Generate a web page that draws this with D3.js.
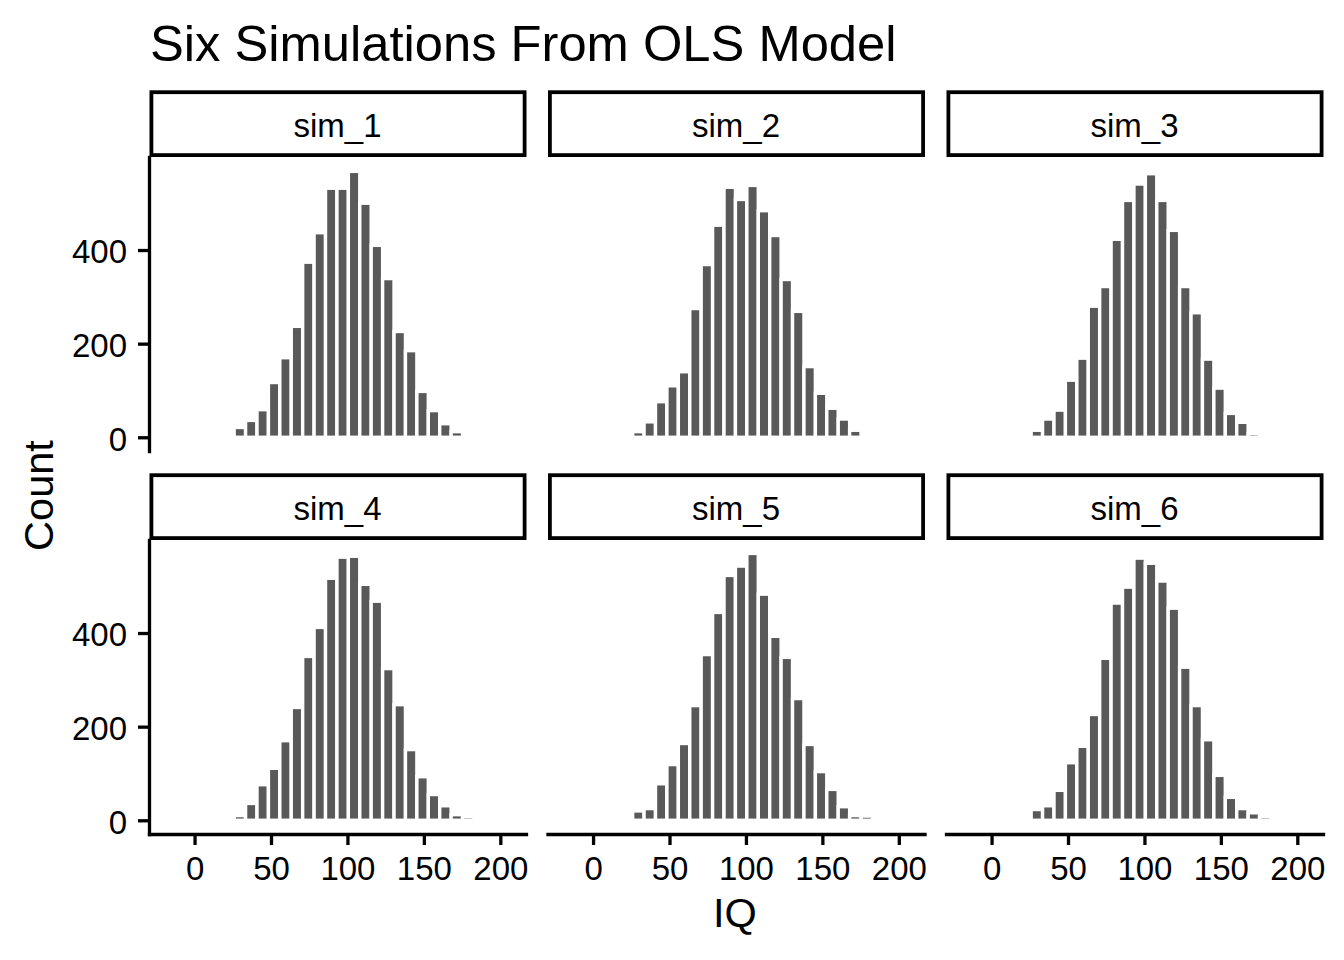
<!DOCTYPE html>
<html>
<head>
<meta charset="utf-8">
<script src="https://cdn.jsdelivr.net/npm/d3@7"></script>
<style>
  body { margin: 0; background: #fff; }
  text { font-family: "Liberation Sans", Arial, sans-serif; fill: #000; }
</style>
</head>
<body>
<svg id="chart"></svg>
<script>
// histogram counts (bins share the same breaks)
const simNames = ['sim_1', 'sim_2', 'sim_3', 'sim_4', 'sim_5', 'sim_6'];
const sim1 = [21, 36, 59, 117, 170, 237, 374, 437, 532, 532, 568, 500, 410, 339, 226, 185, 98, 57, 29, 12];
const sim2 = [12, 33, 76, 110, 140, 275, 369, 453, 534, 508, 538, 484, 431, 337, 269, 151, 94, 62, 39, 15];
const sim3 = [15, 39, 58, 122, 169, 280, 322, 423, 506, 541, 563, 506, 442, 322, 266, 167, 105, 51, 32, 8];
const sim4 = [10, 36, 76, 111, 170, 241, 350, 412, 517, 562, 564, 504, 468, 324, 247, 151, 93, 55, 31, 12, 8];
const sim5 = [20, 25, 78, 119, 164, 245, 354, 444, 523, 543, 570, 483, 393, 348, 260, 162, 104, 66, 29, 10, 9];
const sim6 = [23, 31, 64, 123, 158, 226, 346, 464, 498, 560, 549, 511, 453, 327, 245, 172, 96, 49, 25, 16, 8];
const simCounts = [sim1, sim2, sim3, sim4, sim5, sim6];

// bin breaks on the IQ scale
const binStart = 25.9;
const binWidth = 7.47;

const xTicks = [0, 50, 100, 150, 200];
const yTicks = [0, 200, 400];

const config = {
  width: 1344,
  height: 960,
  panelLeft: 149,
  panelStep: 398.5,
  panelW: 377,
  stripTop: [90.3, 473.3],
  stripH: 66.7,
  panelH: 294,
  line: 3.3,
  stripLine: 3.8,
  barFill: '#595959'
};

const svg = d3.select('#chart')
  .attr('width', config.width)
  .attr('height', config.height);

svg.append('rect')
  .attr('width', config.width)
  .attr('height', config.height)
  .attr('fill', '#fff');

const xScale = d3.scaleLinear()
  .domain([-29.8, 216.8])
  .range([0, config.panelW]);

const yScale = d3.scaleLinear()
  .domain([-29.3, 598.7])
  .range([config.panelH, 0]);

// title
svg.append('text')
  .attr('x', 150)
  .attr('y', 61)
  .style('font-size', '50.7px')
  .text('Six Simulations From OLS Model');

simNames.forEach((name, i) => {
  const col = i % 3;
  const row = Math.floor(i / 3);
  const left = config.panelLeft + col * config.panelStep;
  const stripTop = config.stripTop[row];
  const panelTop = stripTop + config.stripH;

  // strip
  const strip = svg.append('g')
    .attr('transform', `translate(${left}, ${stripTop})`);
  strip.append('rect')
    .attr('x', 0.5 + config.stripLine / 2)
    .attr('y', config.stripLine / 2)
    .attr('width', config.panelW - config.stripLine)
    .attr('height', config.stripH - config.stripLine)
    .attr('fill', '#fff')
    .attr('stroke', '#000')
    .attr('stroke-width', config.stripLine);
  strip.append('text')
    .attr('x', config.panelW / 2)
    .attr('y', config.stripH / 2 + 2)
    .attr('text-anchor', 'middle')
    .attr('dominant-baseline', 'central')
    .style('font-size', '33px')
    .text(name);

  // panel
  const panel = svg.append('g')
    .attr('transform', `translate(${left}, ${panelTop})`);

  const bins = simCounts[i].map((c, k) => ({
    x0: binStart + k * binWidth,
    x1: binStart + (k + 1) * binWidth,
    count: c
  }));

  panel.selectAll('.bar')
    .data(bins)
    .join('rect')
    .attr('class', 'bar')
    .attr('x', d => xScale(d.x0))
    .attr('width', d => xScale(d.x1) - xScale(d.x0))
    .attr('y', d => yScale(d.count))
    .attr('height', d => yScale(0) - yScale(d.count))
    .attr('fill', config.barFill)
    .attr('stroke', '#fff')
    .attr('stroke-width', 3.4);

  if (col === 0) {
    const yAxisG = panel.append('g')
      .attr('class', 'axis y-axis')
      .call(d3.axisLeft(yScale).tickValues(yTicks).tickSize(11).tickSizeOuter(0).tickPadding(11));
    styleAxis(yAxisG);
    yAxisG.selectAll('.tick text').attr('dy', '0.39em');
  }
  if (row === 1) {
    const xAxisG = panel.append('g')
      .attr('class', 'axis x-axis')
      .attr('transform', `translate(0, ${config.panelH})`)
      .call(d3.axisBottom(xScale).tickValues(xTicks).tickSize(11).tickSizeOuter(0).tickPadding(12));
    styleAxis(xAxisG);
  }
});

function styleAxis(g) {
  g.select('.domain')
    .attr('stroke', '#000')
    .attr('stroke-width', config.line)
    .attr('stroke-linecap', 'square');
  g.selectAll('.tick line')
    .attr('stroke', '#000')
    .attr('stroke-width', config.line);
  g.selectAll('.tick text')
    .attr('fill', '#000')
    .style('font-family', '"Liberation Sans", Arial, sans-serif')
    .style('font-size', '33px');
}

// axis titles
svg.append('text')
  .attr('transform', 'translate(53, 495.5) rotate(-90)')
  .attr('text-anchor', 'middle')
  .style('font-size', '41.5px')
  .text('Count');

svg.append('text')
  .attr('x', 735)
  .attr('y', 927)
  .attr('text-anchor', 'middle')
  .style('font-size', '41.5px')
  .text('IQ');
</script>
</body>
</html>
